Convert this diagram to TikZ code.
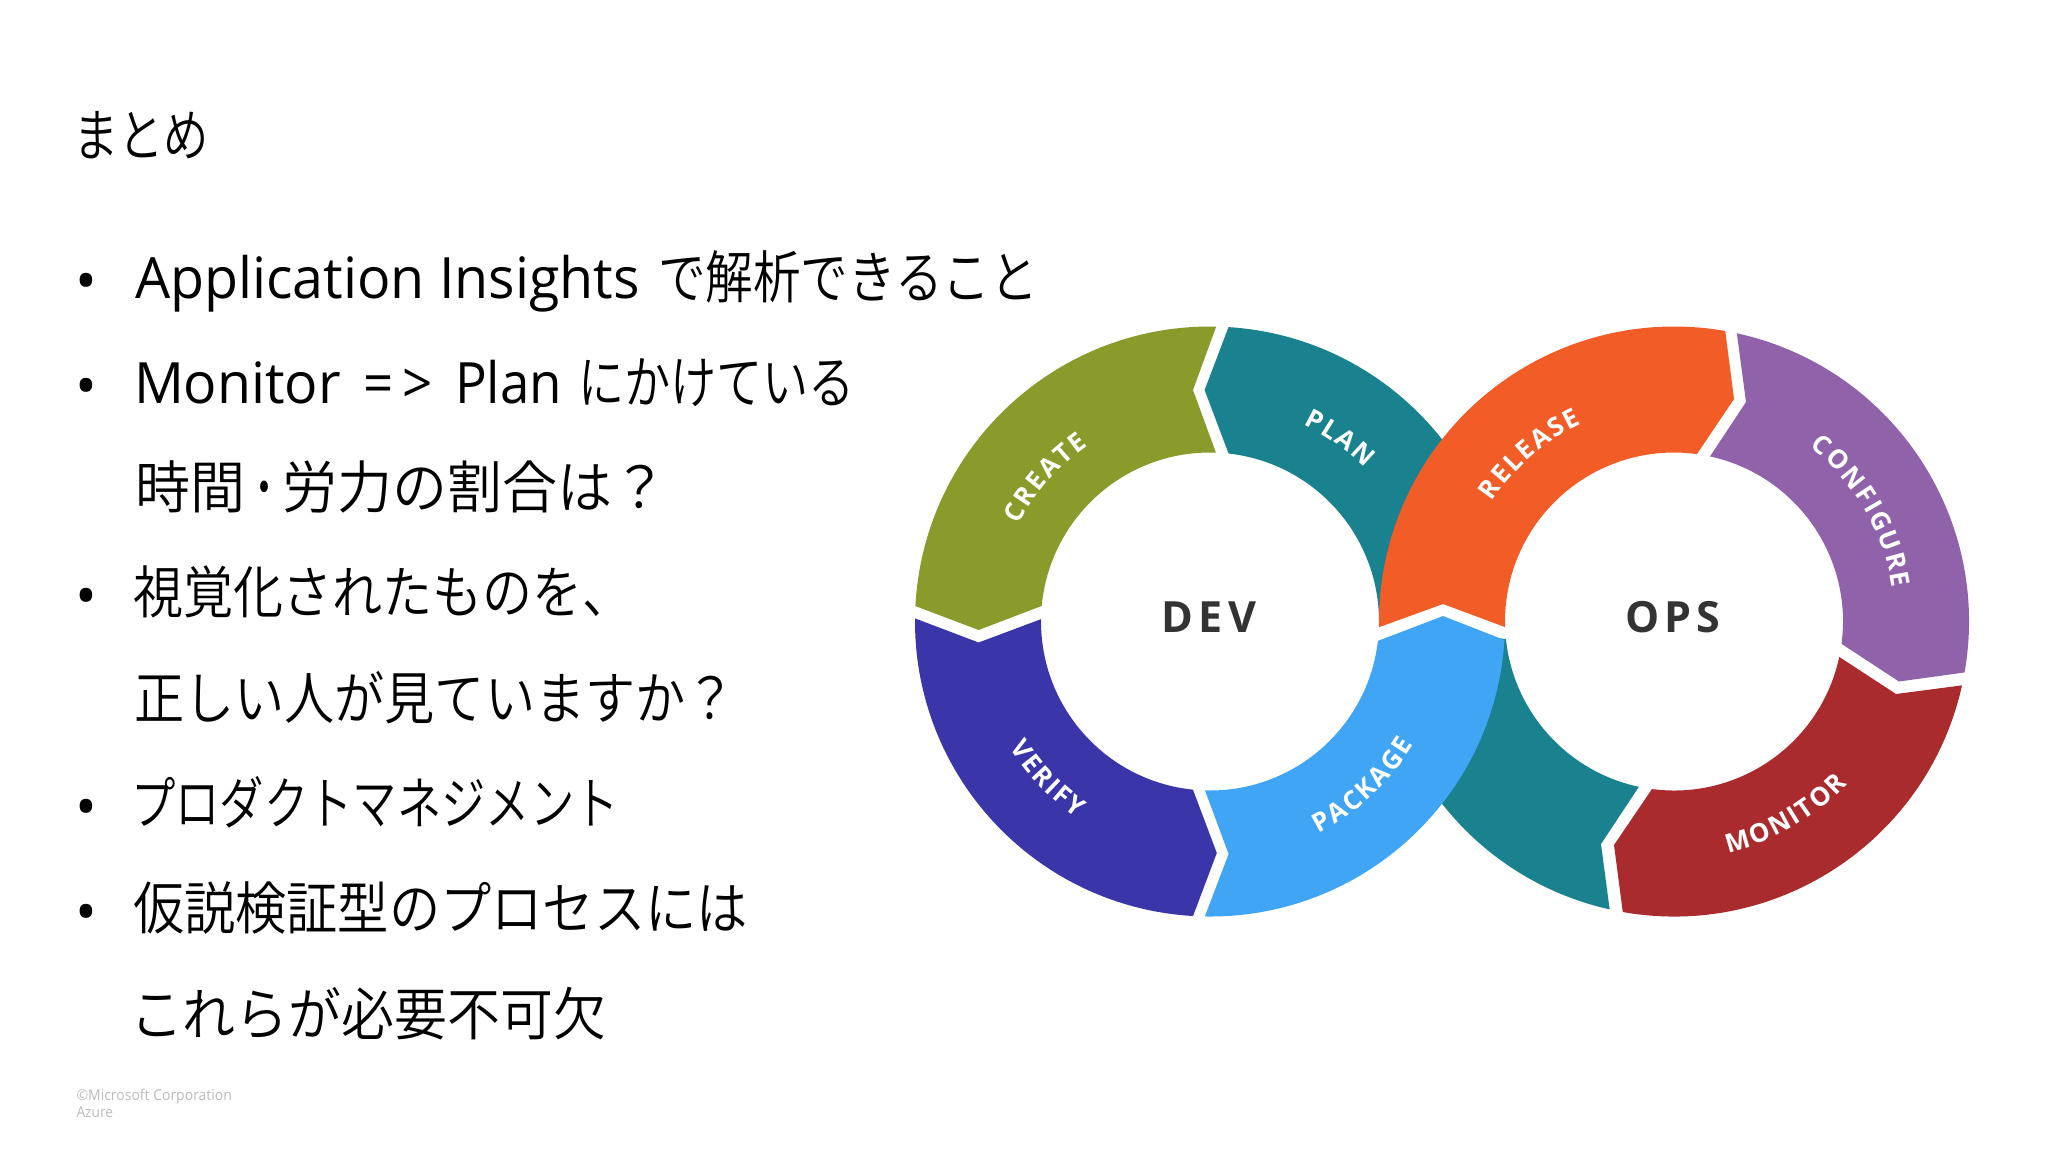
\documentclass[tikz,border=0pt]{standalone}
\usepackage{fontspec}
\usepackage{graphicx}
\usetikzlibrary{calc,decorations.text}
\newfontfamily\jp{Noto Sans CJK JP DemiLight}
\newfontfamily\la{Open Sans}
\newfontfamily\lb{Open Sans Bold}
\newfontfamily\lc[LetterSpace=12]{Open Sans Bold}
\definecolor{cCreate}{HTML}{8A9B2C}
\definecolor{cPlan}{HTML}{1A818E}
\definecolor{cRelease}{HTML}{F25C27}
\definecolor{cConfig}{HTML}{9062AA}
\definecolor{cMonitor}{HTML}{A92B2E}
\definecolor{cPackage}{HTML}{41A5F5}
\definecolor{cVerify}{HTML}{3A35A8}
\definecolor{cHub}{HTML}{333333}
\definecolor{cNote}{HTML}{BBBBBB}
\newcommand\Fit[2]{\resizebox{#1pt}{\height}{#2}}
\newcommand\labfont{\lb\fontsize{26}{30}\selectfont\color{white}}
\newcommand\K{\kern2pt}
\tikzset{
  x=1pt,y=1pt,
  textline/.style={anchor=base west,inner sep=0pt,outer sep=0pt,font=\fontsize{57}{60}\selectfont},
  bulletmark/.style={anchor=base,inner sep=0pt,outer sep=0pt,font=\la\fontsize{58}{60}\selectfont},
  hub/.style={inner sep=0pt,font=\lc\fontsize{43}{48}\selectfont,text=cHub},
  note/.style={anchor=base west,inner sep=0pt,outer sep=0pt,font=\la\fontsize{15}{18}\selectfont,text=cNote},
  ringtext/.style={decorate,decoration={text along path,text align=center,text={|\labfont|#1}}}
}
\begin{document}
\begin{tikzpicture}
\useasboundingbox (0,0) rectangle (2048,-1152);
\coordinate (C1) at (1210,-621.5);
\coordinate (C2) at (1674,-621.5);
% PLAN (under RELEASE)
\fill[cPlan] ($(C1)+(86.4:295)$) arc[start angle=86.4,end angle=1,radius=295]
  -- (1443,-596) -- ($(C1)+(-1.5:169)$) arc[start angle=-1.5,end angle=83.7,radius=169]
  -- (1204.6,-390) -- cycle;
% lower teal (under PACKAGE)
\fill[cPlan] ($(C2)+(257.4:295)$) arc[start angle=257.4,end angle=184,radius=295]
  -- (1443,-630) -- ($(C2)+(186:169)$) arc[start angle=186,end angle=258,radius=169]
  -- (1601,-844) -- cycle;
% CREATE
\fill[cCreate] ($(C1)+(177:295)$) arc[start angle=177,end angle=88.8,radius=295]
  -- (1193,-390) -- ($(C1)+(88:169)$) arc[start angle=88,end angle=174.7,radius=169]
  -- (978.6,-630) -- cycle;
% VERIFY
\fill[cVerify] ($(C1)+(179.4:295)$) arc[start angle=179.4,end angle=266.7,radius=295]
  -- (1216.8,-853) -- ($(C1)+(264.2:169)$) arc[start angle=264.2,end angle=179.2,radius=169]
  -- (978.6,-642.5) -- cycle;
% PACKAGE
\fill[cPackage] ($(C1)+(-3.6:295)$) arc[start angle=-3.6,end angle=-91,radius=295]
  -- (1228.6,-854) -- ($(C1)+(-91.7:169)$) arc[start angle=-91.7,end angle=-6.6,radius=169]
  -- (1443,-616) -- cycle;
% RELEASE
\fill[cRelease] ($(C2)+(181.1:295)$) arc[start angle=181.1,end angle=80,radius=295]
  -- (1734,-399) -- ($(C2)+(82.2:169)$) arc[start angle=82.2,end angle=181.9,radius=169]
  -- (1443,-604) -- cycle;
% CONFIGURE
\fill[cConfig] ($(C2)+(77.7:295)$) arc[start angle=77.7,end angle=-9.95,radius=295]
  -- (1899,-681.5) -- ($(C2)+(-7.6:169)$) arc[start angle=-7.6,end angle=77.7,radius=169]
  -- (1746,-402) -- cycle;
% MONITOR
\fill[cMonitor] ($(C2)+(-12.5:295)$) arc[start angle=-12.5,end angle=-100,radius=295]
  -- (1614,-845) -- ($(C2)+(-97.5:169)$) arc[start angle=-97.5,end angle=-12.1,radius=169]
  -- (1896,-694) -- cycle;
% ring labels
\path[ringtext={C{\K}R{\K}E{\K}A{\K}T{\K}E}] ($(C1)+(179:214)$) arc[start angle=179,end angle=99,radius=214];
\path[ringtext={P{\K}L{\K}A{\K}N}] ($(C1)+(94.6:218)$) arc[start angle=94.6,end angle=14.6,radius=218];
\path[ringtext={R{\K}E{\K}L{\K}E{\K}A{\K}S{\K}E}] ($(C2)+(170.8:218)$) arc[start angle=170.8,end angle=90.8,radius=218];
\path[ringtext={C{\K}O{\K}N{\K}F{\K}I{\K}G{\K}U{\K}R{\K}E}] ($(C2)+(70.4:221)$) arc[start angle=70.4,end angle=-9.6,radius=221];
\path[ringtext={V{\K}E{\K}R{\K}I{\K}F{\K}Y}] ($(C1)+(184:237)$) arc[start angle=184,end angle=264,radius=237];
\path[ringtext={P{\K}A{\K}C{\K}K{\K}A{\K}G{\K}E}] ($(C1)+(-87:238)$) arc[start angle=-87,end angle=-7,radius=238];
\path[ringtext={M{\K}O{\K}N{\K}I{\K}T{\K}O{\K}R}] ($(C2)+(-100:237.5)$) arc[start angle=-100,end angle=-20,radius=237.5];
\node[hub] (dev) at (1209,-617) {DEV};
\node[hub] (ops) at (1673,-617) {OPS};
% text
\node[textline] (title) at (73,-156) {\jp\Fit{136}{まとめ}};
\node[bulletmark] (b1) at (86,-301) {•};
\node[textline] (l1) at (135,-298) {\la\Fit{505}{Application Insights}\hspace{18pt}\jp\Fit{380}{で解析できること}};
\node[bulletmark] (b2) at (86,-406.3) {•};
\node[textline] (l2) at (134,-403.3) {\la\Fit{207}{Monitor}\hspace{22pt}\Fit{70}{=\hspace{0.18em}>}\hspace{22pt}\Fit{107}{Plan}\hspace{16pt}\jp\Fit{277}{にかけている}};
\node[textline] (l3) at (135,-508.6) {\jp\Fit{110}{時間}\Fit{38}{・}\Fit{385}{労力の割合は？}};
\node[bulletmark] (b3) at (86,-616.9) {•};
\node[textline] (l4) at (133,-613.9) {\jp\Fit{500}{視覚化されたものを、}};
\node[textline] (l5) at (134,-719.2) {\jp\Fit{602}{正しい人が見ていますか？}};
\node[bulletmark] (b4) at (86,-827.5) {•};
\node[textline] (l6) at (131,-824.5) {\jp\Fit{488}{プロダクトマネジメント}};
\node[bulletmark] (b5) at (86,-932.8) {•};
\node[textline] (l7) at (133,-929.8) {\jp\Fit{615}{仮説検証型のプロセスには}};
\node[textline] (l8) at (130,-1035) {\jp\Fit{476}{これらが必要不可欠}};
\node[note] (n1) at (76.5,-1100) {\Fit{155.5}{©Microsoft Corporation}};
\node[note] (n2) at (76.5,-1117) {\Fit{36.5}{Azure}};
\end{tikzpicture}
\end{document}
